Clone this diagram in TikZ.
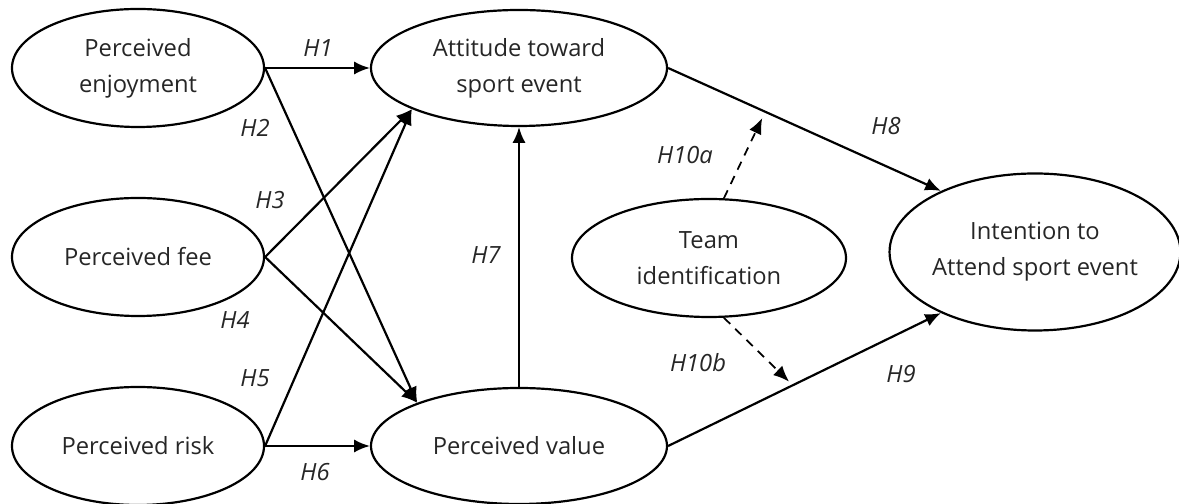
\documentclass[tikz,border=0pt]{standalone}
\usepackage{fontspec}
\setmainfont{Open Sans}
\usetikzlibrary{shapes.geometric,arrows.meta,calc}

\definecolor{ink}{HTML}{262626}

\tikzset{
  construct/.style={ellipse, draw, line width=1.25pt, inner sep=0pt, align=center,
    text=ink, font=\fontsize{13.5}{20.5}\selectfont},
  hyp/.style={text=ink, font=\fontsize{13.5}{16}\selectfont\itshape},
  path/.style={line width=1.25pt, -{Latex[length=9pt,width=7.5pt]}},
  moderate/.style={line width=1pt, dash pattern=on 5pt off 4pt, -{Latex[length=9pt,width=7.5pt]}}
}

\begin{document}
\begin{tikzpicture}
    \useasboundingbox (0,0) rectangle (23.58,10.08);

    % constructs
    \node[construct, minimum width=5.04cm, minimum height=2.36cm] (enj) at (2.76,8.72) {Perceived\\enjoyment};
    \node[construct, minimum width=5.04cm, minimum height=2.36cm] (fee) at (2.76,4.94) {Perceived fee};
    \node[construct, minimum width=5.04cm, minimum height=2.36cm] (risk) at (2.76,1.16) {Perceived risk};

    \node[construct, minimum width=5.92cm, minimum height=2.32cm] (att) at (10.38,8.72) {Attitude toward\\sport event};
    \node[construct, minimum width=5.92cm, minimum height=2.32cm] (val) at (10.38,1.16) {Perceived value};

    \node[construct, minimum width=5.48cm, minimum height=2.36cm] (team) at (14.18,4.92) {Team\\identification};
    \node[construct, minimum width=5.64cm, minimum height=3.14cm] (int) at (20.70,5.04) {Intention to\\Attend sport event};

    % paths
    \draw [path] (enj.east) -- (att.west);
    \draw [path] (enj.east) -- (val.157);
    \draw [path] (fee.east) -- (att.201);
    \draw [path] (fee.east) -- (val.157);
    \draw [path] (risk.east) -- (att.201);
    \draw [path] (risk.east) -- (val.west);
    \draw [path] (val.north) -- (att.south);
    \draw [path] (att.east) -- (int.147);
    \draw [path] (val.east) -- (int.213);

    % moderation
    \coordinate (m8) at ($(att.east)!0.356!(int.147)$);
    \coordinate (m9) at ($(val.east)!0.457!(int.213)$);
    \draw [moderate, shorten >=4pt] (team.76) -- (m8);
    \draw [moderate, shorten >=3pt] (team.284) -- (m9);

    % labels
    \node[hyp] (h1) at (6.36,9.12) {H1};
    \node[hyp] (h2) at (5.10,7.52) {H2};
    \node[hyp] (h3) at (5.40,6.08) {H3};
    \node[hyp] (h4) at (4.70,3.68) {H4};
    \node[hyp] (h5) at (5.10,2.52) {H5};
    \node[hyp] (h6) at (6.30,0.64) {H6};
    \node[hyp] (h7) at (9.72,4.98) {H7};
    \node[hyp] (h8) at (17.72,7.56) {H8};
    \node[hyp] (h9) at (18.02,2.60) {H9};
    \node[hyp] (h10a) at (13.70,6.98) {H10a};
    \node[hyp] (h10b) at (13.96,2.82) {H10b};
\end{tikzpicture}
\end{document}
